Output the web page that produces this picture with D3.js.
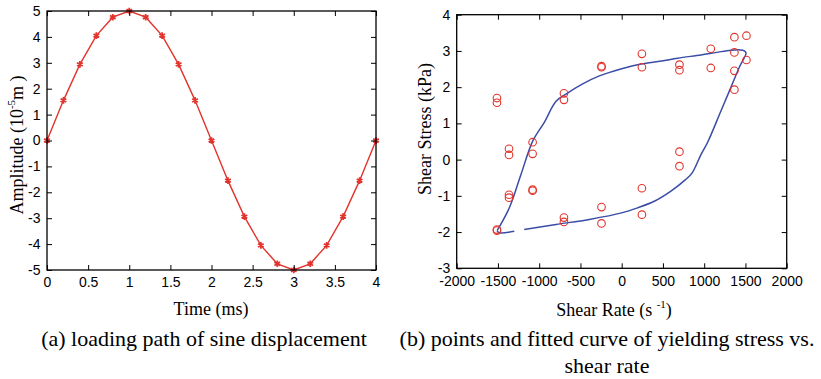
<!DOCTYPE html>
<html>
<head>
<meta charset="utf-8">
<script src="https://cdn.jsdelivr.net/npm/d3@7"></script>
<style>
  body { margin: 0; background: #fff; }
  .tick text { font-family: "Liberation Sans", Arial, sans-serif; font-size: 14px; fill: #000; }
  .serif { font-family: "Liberation Serif", "Times New Roman", serif; fill: #000; }
</style>
</head>
<body>
<svg width="821" height="379"></svg>
<script>
// (a) sine displacement, one marker every 0.2 ms
const timeMs = [0, 0.2, 0.4, 0.6, 0.8, 1.0, 1.2, 1.4, 1.6, 1.8, 2.0, 2.2, 2.4, 2.6, 2.8, 3.0, 3.2, 3.4, 3.6, 3.8, 4.0];
const amplitude = [0, 1.55, 2.94, 4.05, 4.76, 5, 4.76, 4.05, 2.94, 1.55, 0, -1.55, -2.94, -4.05, -4.76, -5, -4.76, -4.05, -2.94, -1.55, 0];
const timeTicks = [0, 0.5, 1, 1.5, 2, 2.5, 3, 3.5, 4];
const ampTicks = [-5, -4, -3, -2, -1, 0, 1, 2, 3, 4, 5];

// (b) measured points
const rateX = [-1512, -1512, -1512, -1512, -1366, -1366, -1366, -1366, -1080, -1080, -1080, -1080,
  -700, -700, -700, -700, -245, -245, -245, -245, 245, 245, 245, 245, 700, 700, 700, 700,
  1080, 1080, 1366, 1366, 1366, 1366, 1512, 1512];
const stressY = [1.70, 1.57, -1.93, -1.96, 0.30, 0.13, -0.97, -1.05, 0.48, 0.16, -0.83, -0.86,
  1.83, 1.65, -1.60, -1.72, 2.58, 2.55, -1.31, -1.76, 2.92, 2.55, -0.79, -1.52, 2.62, 2.47, 0.22, -0.18,
  3.06, 2.53, 3.38, 2.96, 2.45, 1.93, 3.42, 2.75];

// (b) fitted loop (null = break in the drawn line)
const fitX = [-1510, -1362, -1221, -1079, -938, -796, -675, -473, -271, 0, 234, 480, 679, 961, 1150, 1325, 1467, 1500, 1507,
  1426, 1325, 1204, 1042, 961, 850, 770, 597, 395, 194, 0, -393, -796, -1181, null, -1302, -1484, -1510];
const fitY = [-1.96, -1.33, -0.41, 0.51, 1.03, 1.61, 1.81, 2.09, 2.31, 2.51, 2.64, 2.72, 2.80, 2.89, 2.96, 3.02, 3.02, 2.98, 2.93,
  2.55, 2.0, 1.35, 0.48, 0.14, -0.38, -0.56, -0.87, -1.15, -1.33, -1.47, -1.65, -1.79, -1.93, null, -1.98, -2.02, -1.97];
const rateTicks = [-2000, -1500, -1000, -500, 0, 500, 1000, 1500, 2000];
const stressTicks = [-3, -2, -1, 0, 1, 2, 3, 4];

const svg = d3.select("svg");
const red = "#e2332c";
const blue = "#3a4ca6";

function frame(g, x, y, xt, yt) {
  const [x0, x1] = x.range();
  const [y0, y1] = y.range();
  g.append("g").attr("transform", `translate(0,${y0})`)
    .call(d3.axisBottom(x).tickValues(xt).tickSize(-5).tickPadding(7.5).tickFormat(d3.format("")))
    .call(a => a.select(".domain").remove());
  g.append("g").attr("transform", `translate(0,${y1})`)
    .call(d3.axisTop(x).tickValues(xt).tickSize(-5).tickFormat(""))
    .call(a => a.select(".domain").remove());
  g.append("g").attr("transform", `translate(${x0},0)`)
    .call(d3.axisLeft(y).tickValues(yt).tickSize(-5).tickPadding(6.5).tickFormat(d3.format("")))
    .call(a => a.select(".domain").remove());
  g.append("g").attr("transform", `translate(${x1},0)`)
    .call(d3.axisRight(y).tickValues(yt).tickSize(-5).tickFormat(""))
    .call(a => a.select(".domain").remove());
  g.selectAll(".tick line").attr("stroke", "#000");
  g.selectAll(".tick text").text(function () { return this.textContent.replace("−", "-"); });
  g.append("rect")
    .attr("x", x0).attr("y", y1)
    .attr("width", x1 - x0).attr("height", y0 - y1)
    .attr("fill", "none").attr("stroke", "#000").attr("stroke-width", 1.3);
}

// ---- left chart
const xA = d3.scaleLinear().domain([0, 4]).range([47, 376]);
const yA = d3.scaleLinear().domain([-5, 5]).range([270, 11]);
const gA = svg.append("g");

const sine = timeMs.map((t, i) => ({ t, a: amplitude[i] }));
gA.append("path")
  .datum(sine)
  .attr("fill", "none").attr("stroke", red).attr("stroke-width", 1.4)
  .attr("d", d3.line().x(d => xA(d.t)).y(d => yA(d.a)));
gA.selectAll("path.mk")
  .data(sine).enter().append("path")
  .attr("class", "mk")
  .attr("transform", d => `translate(${xA(d.t)},${yA(d.a)})`)
  .attr("d", d3.symbol(d3.symbolAsterisk, 30))
  .attr("fill", "none").attr("stroke", red).attr("stroke-width", 1.8);

frame(gA, xA, yA, timeTicks, ampTicks);

const ylabA = gA.append("text").attr("class", "serif")
  .attr("transform", "translate(23,145) rotate(-90)")
  .attr("text-anchor", "middle").attr("font-size", 18);
ylabA.append("tspan").text("Amplitude (10");
ylabA.append("tspan").attr("font-size", 11).attr("dy", -8).text("-5");
ylabA.append("tspan").attr("dy", 8).text("m )");

gA.append("text").attr("class", "serif")
  .attr("x", 211).attr("y", 315).attr("text-anchor", "middle").attr("font-size", 18)
  .text("Time (ms)");

gA.append("text").attr("class", "serif")
  .attr("x", 204).attr("y", 346).attr("text-anchor", "middle").attr("font-size", 22)
  .text("(a) loading path of sine displacement");

// ---- right chart
const xB = d3.scaleLinear().domain([-2000, 2000]).range([456.7, 786.7]);
const yB = d3.scaleLinear().domain([-3, 4]).range([268.3, 14.7]);
const gB = svg.append("g");

const fit = fitX.map((x, i) => ({ x, y: fitY[i] }));
gB.append("path")
  .datum(fit)
  .attr("fill", "none").attr("stroke", blue).attr("stroke-width", 1.5)
  .attr("d", d3.line().defined(d => d.x !== null)
    .curve(d3.curveCatmullRom.alpha(0.5))
    .x(d => xB(d.x)).y(d => yB(d.y)));

gB.selectAll("circle")
  .data(rateX.map((x, i) => ({ x, y: stressY[i] })))
  .enter().append("circle")
  .attr("cx", d => xB(d.x)).attr("cy", d => yB(d.y)).attr("r", 3.8)
  .attr("fill", "none").attr("stroke", red).attr("stroke-width", 1.1);

frame(gB, xB, yB, rateTicks, stressTicks);

gB.append("text").attr("class", "serif")
  .attr("transform", "translate(431,129) rotate(-90)")
  .attr("text-anchor", "middle").attr("font-size", 18)
  .text("Shear Stress (kPa)");

const xlabB = gB.append("text").attr("class", "serif")
  .attr("x", 614).attr("y", 316).attr("text-anchor", "middle").attr("font-size", 18);
xlabB.append("tspan").text("Shear Rate (s ");
xlabB.append("tspan").attr("font-size", 11).attr("dy", -8).text("-1");
xlabB.append("tspan").attr("dy", 8).text(")");

gB.append("text").attr("class", "serif")
  .attr("x", 607).attr("y", 346).attr("text-anchor", "middle").attr("font-size", 22)
  .text("(b) points and fitted curve of yielding stress vs.");
gB.append("text").attr("class", "serif")
  .attr("x", 607).attr("y", 373).attr("text-anchor", "middle").attr("font-size", 22)
  .text("shear rate");
</script>
</body>
</html>
